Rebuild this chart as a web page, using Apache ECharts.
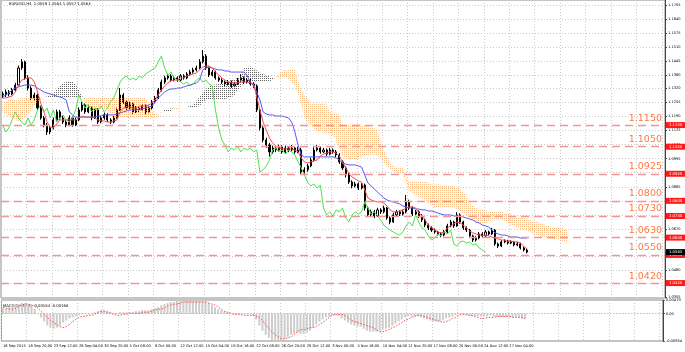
<!DOCTYPE html>
<html><head><meta charset="utf-8">
<script src="https://cdn.jsdelivr.net/npm/echarts@6/dist/echarts.min.js"></script>
<style>html,body{margin:0;padding:0;background:#fff}#c{width:685px;height:352px}</style>
</head><body><div id="c"></div>
<script>
// ---------- data ----------
const headerText = 'EURUSD,H4  1.0559 1.0564 1.0557 1.0563';
const macdText = 'MACD(12,26,9) -0.00184 -0.00168';
const xTickLabels = ['16 Sep 2015','18 Sep 20:00','23 Sep 12:00','28 Sep 04:00','30 Sep 20:00','5 Oct 08:00','8 Oct 00:00','12 Oct 12:00','15 Oct 04:00','19 Oct 16:00','22 Oct 08:00','26 Oct 20:00','29 Oct 12:00','3 Nov 00:00','5 Nov 16:00','10 Nov 04:00','12 Nov 20:00','17 Nov 08:00','20 Nov 00:00','24 Nov 12:00','27 Nov 04:00'];
const priceTicks = [1.1705,1.1640,1.1575,1.1510,1.1445,1.1380,1.1320,1.1255,1.1190,1.1125,1.1060,1.0995,1.0930,1.0865,1.0800,1.0735,1.0670,1.0545,1.0480,1.0420,1.0355];
const macdTicks = [0.00479, 0, -0.00954];
const levels = [1.1150,1.1050,1.0925,1.0800,1.0730,1.0630,1.0550,1.0420];
const lastPrice = 1.0563;
// each slot = two H4 bars; [open, close, low, high]
const candles = [
[1.1294,1.1289,1.1275,1.1305],[1.1289,1.1303,1.1280,1.1315],[1.1303,1.1294,1.1282,1.1312],[1.1294,1.1312,1.1288,1.1322],[1.1312,1.1335,1.1305,1.1345],
[1.1335,1.1414,1.1330,1.1425],[1.1414,1.1442,1.1405,1.1455],[1.1442,1.1368,1.1360,1.1448],[1.1368,1.1321,1.1310,1.1380],[1.1321,1.1275,1.1265,1.1330],
[1.1275,1.1289,1.1262,1.1300],[1.1289,1.1229,1.1220,1.1295],[1.1229,1.1183,1.1175,1.1238],[1.1183,1.1150,1.1140,1.1192],[1.1150,1.1118,1.1104,1.1160],
[1.1118,1.1137,1.1108,1.1148],[1.1137,1.1174,1.1130,1.1185],[1.1174,1.1211,1.1165,1.1222],[1.1211,1.1183,1.1175,1.1220],[1.1183,1.1164,1.1155,1.1192],
[1.1164,1.1150,1.1140,1.1172],[1.1150,1.1183,1.1145,1.1195],[1.1183,1.1150,1.1142,1.1190],[1.1150,1.1174,1.1145,1.1185],[1.1174,1.1220,1.1168,1.1232],
[1.1220,1.1243,1.1212,1.1258],[1.1243,1.1211,1.1202,1.1250],[1.1211,1.1229,1.1205,1.1240],[1.1229,1.1183,1.1172,1.1236],[1.1183,1.1220,1.1178,1.1230],
[1.1220,1.1164,1.1155,1.1228],[1.1164,1.1183,1.1158,1.1192],[1.1183,1.1197,1.1175,1.1208],[1.1197,1.1174,1.1165,1.1205],[1.1174,1.1164,1.1155,1.1182],
[1.1164,1.1183,1.1158,1.1192],[1.1183,1.1220,1.1178,1.1230],[1.1220,1.1289,1.1215,1.1321],[1.1289,1.1257,1.1248,1.1298],[1.1257,1.1229,1.1220,1.1265],
[1.1229,1.1248,1.1222,1.1258],[1.1248,1.1211,1.1202,1.1255],[1.1211,1.1229,1.1205,1.1238],[1.1229,1.1220,1.1210,1.1236],[1.1220,1.1238,1.1214,1.1248],
[1.1238,1.1211,1.1200,1.1245],[1.1211,1.1229,1.1205,1.1240],[1.1229,1.1257,1.1222,1.1266],[1.1257,1.1275,1.1250,1.1285],[1.1275,1.1312,1.1270,1.1322],
[1.1312,1.1349,1.1305,1.1360],[1.1349,1.1368,1.1340,1.1378],[1.1368,1.1377,1.1360,1.1388],[1.1377,1.1358,1.1350,1.1385],[1.1358,1.1368,1.1352,1.1378],
[1.1368,1.1358,1.1350,1.1375],[1.1358,1.1377,1.1352,1.1386],[1.1377,1.1368,1.1360,1.1385],[1.1368,1.1386,1.1362,1.1395],[1.1386,1.1395,1.1378,1.1405],
[1.1395,1.1405,1.1388,1.1415],[1.1405,1.1414,1.1398,1.1425],[1.1414,1.1442,1.1408,1.1455],[1.1442,1.1469,1.1435,1.1497],[1.1469,1.1414,1.1405,1.1478],
[1.1414,1.1381,1.1372,1.1420],[1.1381,1.1395,1.1375,1.1405],[1.1395,1.1368,1.1360,1.1402],[1.1368,1.1358,1.1350,1.1375],[1.1358,1.1349,1.1340,1.1366],
[1.1349,1.1340,1.1330,1.1356],[1.1340,1.1349,1.1333,1.1358],[1.1349,1.1331,1.1322,1.1356],[1.1331,1.1340,1.1325,1.1350],[1.1340,1.1358,1.1335,1.1368],
[1.1358,1.1368,1.1350,1.1385],[1.1368,1.1349,1.1340,1.1375],[1.1349,1.1358,1.1342,1.1368],[1.1358,1.1340,1.1332,1.1365],[1.1340,1.1331,1.1322,1.1348],
[1.1331,1.1220,1.1210,1.1338],[1.1220,1.1137,1.1125,1.1228],[1.1137,1.1081,1.1070,1.1145],[1.1081,1.1058,1.1045,1.1092],[1.1058,1.1026,1.1005,1.1068],
[1.1026,1.1044,1.1018,1.1055],[1.1044,1.1035,1.1025,1.1055],[1.1035,1.1049,1.1028,1.1060],[1.1049,1.1026,1.1018,1.1058],[1.1026,1.1044,1.1020,1.1055],
[1.1044,1.1035,1.1025,1.1052],[1.1035,1.1044,1.1028,1.1058],[1.1044,1.1026,1.1018,1.1052],[1.1026,1.1035,1.1020,1.1050],[1.1035,1.0933,1.0920,1.1045],
[1.0933,1.0943,1.0925,1.0955],[1.0943,1.0961,1.0935,1.0972],[1.0961,1.0989,1.0955,1.1000],[1.0989,1.1035,1.0982,1.1048],[1.1035,1.1044,1.1028,1.1058],
[1.1044,1.1026,1.1018,1.1052],[1.1026,1.1035,1.1020,1.1045],[1.1035,1.1016,1.1008,1.1042],[1.1016,1.1035,1.1010,1.1045],[1.1035,1.1026,1.1018,1.1042],
[1.1026,1.1012,1.1002,1.1035],[1.1012,1.0980,1.0970,1.1020],[1.0980,1.0952,1.0942,1.0988],[1.0952,1.0919,1.0908,1.0960],[1.0919,1.0887,1.0878,1.0928],
[1.0887,1.0869,1.0858,1.0895],[1.0869,1.0878,1.0862,1.0888],[1.0878,1.0859,1.0850,1.0885],[1.0859,1.0873,1.0852,1.0882],[1.0873,1.0767,1.0755,1.0880],
[1.0767,1.0735,1.0725,1.0775],[1.0735,1.0749,1.0728,1.0760],[1.0749,1.0730,1.0720,1.0758],[1.0730,1.0758,1.0725,1.0768],[1.0758,1.0749,1.0740,1.0766],
[1.0749,1.0767,1.0742,1.0778],[1.0767,1.0721,1.0712,1.0772],[1.0721,1.0702,1.0692,1.0728],[1.0702,1.0735,1.0698,1.0745],[1.0735,1.0749,1.0728,1.0758],
[1.0749,1.0739,1.0730,1.0756],[1.0739,1.0749,1.0732,1.0760],[1.0749,1.0795,1.0742,1.0827],[1.0795,1.0767,1.0758,1.0805],[1.0767,1.0739,1.0730,1.0775],
[1.0739,1.0749,1.0732,1.0758],[1.0749,1.0730,1.0720,1.0756],[1.0730,1.0712,1.0702,1.0738],[1.0712,1.0688,1.0678,1.0718],[1.0688,1.0675,1.0665,1.0695],
[1.0675,1.0665,1.0656,1.0682],[1.0665,1.0656,1.0648,1.0672],[1.0656,1.0647,1.0640,1.0662],[1.0647,1.0642,1.0632,1.0655],[1.0642,1.0656,1.0636,1.0665],
[1.0656,1.0684,1.0650,1.0694],[1.0684,1.0702,1.0678,1.0712],[1.0702,1.0684,1.0675,1.0708],[1.0684,1.0735,1.0680,1.0748],[1.0735,1.0702,1.0694,1.0742],
[1.0702,1.0675,1.0666,1.0708],[1.0675,1.0665,1.0656,1.0682],[1.0665,1.0638,1.0628,1.0670],[1.0638,1.0619,1.0610,1.0644],[1.0619,1.0628,1.0612,1.0638],
[1.0628,1.0647,1.0622,1.0656],[1.0647,1.0638,1.0630,1.0655],[1.0638,1.0656,1.0632,1.0665],[1.0656,1.0647,1.0640,1.0662],[1.0647,1.0665,1.0642,1.0675],
[1.0665,1.0601,1.0592,1.0670],[1.0601,1.0591,1.0582,1.0608],[1.0591,1.0610,1.0586,1.0618],[1.0610,1.0614,1.0604,1.0622],[1.0614,1.0605,1.0598,1.0620],
[1.0605,1.0610,1.0600,1.0618],[1.0610,1.0596,1.0590,1.0615],[1.0596,1.0601,1.0590,1.0610],[1.0601,1.0582,1.0575,1.0606],[1.0582,1.0573,1.0566,1.0588],
[1.0573,1.0563,1.0557,1.0580]
];
const tenkan = [1.1275,1.1275,1.1280,1.1284,1.1303,1.1335,1.1358,1.1363,1.1368,1.1368,
1.1349,1.1303,1.1252,1.1211,1.1164,1.1141,1.1137,1.1155,1.1174,1.1174,
1.1174,1.1174,1.1174,1.1174,1.1183,1.1192,1.1187,1.1187,1.1187,1.1183,
1.1174,1.1169,1.1169,1.1164,1.1164,1.1169,1.1174,1.1211,1.1229,1.1234,
1.1234,1.1229,1.1229,1.1238,1.1238,1.1238,1.1243,1.1252,1.1266,1.1289,
1.1312,1.1331,1.1345,1.1354,1.1358,1.1358,1.1368,1.1368,1.1377,1.1382,
1.1386,1.1391,1.1405,1.1418,1.1423,1.1423,1.1414,1.1395,1.1382,1.1368,
1.1358,1.1349,1.1345,1.1345,1.1345,1.1349,1.1349,1.1349,1.1345,1.1340,
1.1280,1.1220,1.1164,1.1127,1.1090,1.1067,1.1053,1.1044,1.1040,1.1040,
1.1040,1.1040,1.1035,1.1026,1.0998,1.0980,1.0975,1.0980,1.0984,1.0989,
1.1007,1.1016,1.1021,1.1026,1.1026,1.1021,1.1007,1.0980,1.0952,1.0929,
1.0910,1.0901,1.0892,1.0887,1.0850,1.0813,1.0804,1.0799,1.0795,1.0795,
1.0790,1.0776,1.0758,1.0749,1.0749,1.0753,1.0758,1.0767,1.0772,1.0772,
1.0767,1.0744,1.0730,1.0712,1.0688,1.0675,1.0665,1.0656,1.0652,1.0656,
1.0675,1.0684,1.0693,1.0702,1.0698,1.0688,1.0675,1.0661,1.0652,1.0647,
1.0642,1.0642,1.0642,1.0638,1.0633,1.0628,1.0624,1.0619,1.0619,1.0614,
1.0614,1.0610,1.0610,1.0605,1.0591,1.0578];
const kijun = [1.1280,1.1289,1.1298,1.1312,1.1321,1.1326,1.1331,1.1335,1.1335,1.1335,
1.1331,1.1321,1.1312,1.1303,1.1298,1.1294,1.1289,1.1284,1.1280,1.1275,
1.1266,1.1211,1.1197,1.1187,1.1187,1.1187,1.1187,1.1187,1.1187,1.1187,
1.1192,1.1192,1.1197,1.1197,1.1197,1.1197,1.1201,1.1206,1.1211,1.1215,
1.1220,1.1220,1.1220,1.1224,1.1224,1.1229,1.1234,1.1238,1.1257,1.1275,
1.1289,1.1303,1.1312,1.1317,1.1317,1.1321,1.1321,1.1326,1.1331,1.1335,
1.1340,1.1345,1.1358,1.1405,1.1414,1.1418,1.1414,1.1409,1.1405,1.1405,
1.1400,1.1400,1.1395,1.1395,1.1395,1.1395,1.1395,1.1377,1.1349,1.1331,
1.1303,1.1266,1.1211,1.1201,1.1197,1.1197,1.1192,1.1192,1.1192,1.1187,
1.1183,1.1164,1.1118,1.1058,1.1012,1.1003,1.1003,1.1003,1.1003,1.1003,
1.1003,1.1003,1.1003,1.1003,1.1003,1.0998,1.0989,1.0975,1.0970,1.0966,
1.0966,1.0966,1.0961,1.0956,1.0919,1.0882,1.0869,1.0855,1.0841,1.0827,
1.0813,1.0804,1.0799,1.0795,1.0790,1.0786,1.0776,1.0772,1.0767,1.0767,
1.0762,1.0762,1.0758,1.0758,1.0753,1.0753,1.0749,1.0744,1.0739,1.0735,
1.0735,1.0735,1.0730,1.0730,1.0730,1.0725,1.0721,1.0716,1.0712,1.0702,
1.0698,1.0688,1.0684,1.0679,1.0665,1.0652,1.0647,1.0642,1.0642,1.0638,
1.0633,1.0633,1.0633,1.0628,1.0628,1.0628];
// cloud spans (already shifted 26 bars forward), 179 slots
const spanA = [1.1211,1.1201,1.1192,1.1183,1.1174,1.1169,1.1174,1.1183,1.1201,1.1220,
1.1238,1.1257,1.1271,1.1278,1.1282,1.1289,1.1298,1.1312,1.1331,1.1345,
1.1349,1.1351,1.1351,1.1340,1.1312,1.1282,1.1257,1.1231,1.1217,1.1213,
1.1220,1.1227,1.1224,1.1220,1.1192,1.1185,1.1181,1.1185,1.1190,1.1187,
1.1187,1.1187,1.1185,1.1183,1.1181,1.1183,1.1181,1.1181,1.1183,1.1187,
1.1208,1.1220,1.1224,1.1227,1.1224,1.1224,1.1231,1.1231,1.1234,1.1238,
1.1245,1.1261,1.1282,1.1301,1.1317,1.1328,1.1335,1.1338,1.1340,1.1345,
1.1347,1.1354,1.1358,1.1363,1.1368,1.1382,1.1412,1.1418,1.1421,1.1414,
1.1402,1.1393,1.1386,1.1379,1.1375,1.1370,1.1370,1.1370,1.1372,1.1372,
1.1363,1.1347,1.1335,1.1291,1.1243,1.1187,1.1164,1.1144,1.1132,1.1123,
1.1118,1.1116,1.1113,1.1111,1.1102,1.1077,1.1042,1.1005,1.0991,1.0989,
1.0991,1.0993,1.0996,1.1005,1.1010,1.1012,1.1014,1.1014,1.1010,1.0998,
1.0977,1.0961,1.0947,1.0938,1.0933,1.0926,1.0922,1.0885,1.0848,1.0836,
1.0827,1.0818,1.0811,1.0802,1.0790,1.0779,1.0772,1.0769,1.0769,1.0767,
1.0769,1.0769,1.0769,1.0765,1.0753,1.0744,1.0735,1.0721,1.0714,1.0707,
1.0700,1.0695,1.0695,1.0705,1.0709,1.0712,1.0716,1.0714,1.0707,1.0698,
1.0688,1.0682,1.0675,1.0670,1.0665,1.0663,1.0658,1.0649,1.0640,1.0635,
1.0631,1.0631,1.0626,1.0624,1.0621,1.0621,1.0617,1.0610,1.0603];
const spanB = [1.1257,1.1261,1.1266,1.1266,1.1271,1.1271,1.1275,1.1275,1.1280,1.1280,
1.1280,1.1280,1.1280,1.1280,1.1280,1.1280,1.1280,1.1280,1.1280,1.1280,
1.1280,1.1280,1.1280,1.1280,1.1280,1.1280,1.1280,1.1280,1.1280,1.1280,
1.1280,1.1280,1.1280,1.1280,1.1280,1.1280,1.1280,1.1280,1.1280,1.1280,
1.1280,1.1280,1.1280,1.1280,1.1280,1.1275,1.1243,1.1217,1.1201,1.1199,
1.1213,1.1213,1.1213,1.1215,1.1227,1.1231,1.1231,1.1231,1.1231,1.1231,
1.1231,1.1234,1.1238,1.1257,1.1266,1.1271,1.1271,1.1271,1.1271,1.1271,
1.1271,1.1275,1.1280,1.1287,1.1314,1.1328,1.1349,1.1349,1.1349,1.1349,
1.1349,1.1349,1.1349,1.1349,1.1351,1.1361,1.1375,1.1384,1.1400,1.1409,
1.1409,1.1409,1.1409,1.1354,1.1312,1.1284,1.1271,1.1252,1.1252,1.1252,
1.1252,1.1252,1.1243,1.1213,1.1206,1.1206,1.1197,1.1153,1.1153,1.1153,
1.1153,1.1153,1.1153,1.1153,1.1148,1.1144,1.1141,1.1134,1.1130,1.1074,
1.1033,1.1003,1.0973,1.0959,1.0954,1.0954,1.0954,1.0906,1.0889,1.0887,
1.0887,1.0887,1.0887,1.0887,1.0885,1.0876,1.0876,1.0876,1.0873,1.0871,
1.0871,1.0871,1.0866,1.0864,1.0857,1.0841,1.0820,1.0797,1.0776,1.0767,
1.0762,1.0758,1.0755,1.0753,1.0753,1.0753,1.0749,1.0749,1.0744,1.0744,
1.0739,1.0730,1.0725,1.0721,1.0721,1.0716,1.0712,1.0707,1.0702,1.0698,
1.0693,1.0688,1.0684,1.0679,1.0679,1.0675,1.0675,1.0670,1.0670];
const macdMain = [0.00193,0.00193,0.00229,0.00265,0.00301,0.00337,0.00372,0.00372,0.00337,0.00265,
0.00158,0.00014,-0.00129,-0.00272,-0.00415,-0.00487,-0.00523,-0.00487,-0.00415,-0.00308,
-0.00236,-0.00165,-0.00129,-0.00093,-0.00057,-0.00021,-0.00021,-0.00021,0.00014,0.00050,
0.00086,0.00122,0.00122,0.00086,0.00050,0.00014,0.00014,0.00050,0.00050,0.00050,
0.00050,0.00050,0.00086,0.00086,0.00122,0.00122,0.00122,0.00158,0.00193,0.00229,
0.00301,0.00337,0.00372,0.00408,0.00408,0.00444,0.00444,0.00444,0.00444,0.00444,
0.00444,0.00444,0.00479,0.00479,0.00444,0.00372,0.00301,0.00229,0.00158,0.00122,
0.00086,0.00050,0.00014,-0.00021,-0.00021,-0.00021,-0.00021,-0.00021,-0.00021,-0.00057,
-0.00200,-0.00415,-0.00594,-0.00737,-0.00845,-0.00916,-0.00954,-0.00950,-0.00916,-0.00881,
-0.00809,-0.00737,-0.00702,-0.00666,-0.00702,-0.00702,-0.00666,-0.00594,-0.00487,-0.00379,
-0.00272,-0.00200,-0.00129,-0.00093,-0.00057,-0.00057,-0.00093,-0.00165,-0.00236,-0.00308,
-0.00379,-0.00415,-0.00451,-0.00451,-0.00523,-0.00594,-0.00630,-0.00630,-0.00630,-0.00594,
-0.00558,-0.00523,-0.00487,-0.00415,-0.00344,-0.00272,-0.00200,-0.00129,-0.00093,-0.00093,
-0.00093,-0.00093,-0.00129,-0.00165,-0.00200,-0.00236,-0.00272,-0.00272,-0.00272,-0.00236,
-0.00165,-0.00129,-0.00093,-0.00057,-0.00021,-0.00021,-0.00021,-0.00057,-0.00093,-0.00093,
-0.00093,-0.00093,-0.00093,-0.00093,-0.00057,-0.00093,-0.00129,-0.00129,-0.00129,-0.00129,
-0.00129,-0.00129,-0.00129,-0.00129,-0.00170,-0.00184];
const macdSignal = [0.00229,0.00193,0.00158,0.00158,0.00193,0.00265,0.00301,0.00337,0.00337,0.00301,
0.00265,0.00193,0.00086,-0.00021,-0.00129,-0.00236,-0.00308,-0.00379,-0.00451,-0.00487,
-0.00451,-0.00379,-0.00272,-0.00200,-0.00129,-0.00093,-0.00093,-0.00057,-0.00057,-0.00021,
0.00050,0.00086,0.00086,0.00050,0.00014,-0.00021,-0.00057,-0.00057,-0.00021,-0.00021,
0.00014,0.00014,0.00014,0.00014,0.00050,0.00050,0.00050,0.00086,0.00122,0.00158,
0.00158,0.00193,0.00265,0.00301,0.00337,0.00337,0.00372,0.00408,0.00408,0.00408,
0.00408,0.00408,0.00408,0.00408,0.00408,0.00372,0.00337,0.00301,0.00229,0.00158,
0.00086,0.00050,0.00014,-0.00021,-0.00021,-0.00021,-0.00057,-0.00057,-0.00057,-0.00057,
-0.00093,-0.00129,-0.00236,-0.00379,-0.00523,-0.00630,-0.00737,-0.00809,-0.00881,-0.00881,
-0.00845,-0.00809,-0.00737,-0.00630,-0.00558,-0.00558,-0.00523,-0.00487,-0.00487,-0.00451,
-0.00379,-0.00308,-0.00236,-0.00129,-0.00057,-0.00021,-0.00021,-0.00021,-0.00057,-0.00129,
-0.00236,-0.00272,-0.00308,-0.00344,-0.00379,-0.00415,-0.00451,-0.00487,-0.00558,-0.00630,
-0.00630,-0.00594,-0.00558,-0.00487,-0.00451,-0.00379,-0.00308,-0.00236,-0.00200,-0.00129,
-0.00093,-0.00057,-0.00057,-0.00093,-0.00129,-0.00165,-0.00200,-0.00236,-0.00272,-0.00308,
-0.00272,-0.00236,-0.00165,-0.00129,-0.00057,-0.00021,-0.00021,-0.00057,-0.00057,-0.00093,
-0.00129,-0.00165,-0.00165,-0.00129,-0.00129,-0.00129,-0.00093,-0.00093,-0.00093,-0.00093,
-0.00093,-0.00129,-0.00129,-0.00129,-0.00129,-0.00168];
const CHIKOU_SHIFT = 13;   // 26 H4 bars = 13 slots
const N_SLOTS = 209;

// ---------- build options ----------
const cats = Array.from({length: N_SLOTS}, (_, i) => String(i));
const closes = candles.map(c => c[1]);
const chikou = closes.slice(CHIKOU_SHIFT);
const kumoBase = spanA.map((a, i) => Math.min(a, spanB[i]));
const kumoDown = spanA.map((a, i) => spanB[i] > a ? spanB[i] - a : 0);
const kumoUp = spanA.map((a, i) => a >= spanB[i] ? a - spanB[i] : 0);

function hatch(color) {
  const c = document.createElement('canvas');
  c.width = 2; c.height = 2;
  const g = c.getContext('2d');
  g.fillStyle = color;
  g.fillRect(0, 0, 1, 1);
  return { image: c, repeat: 'repeat' };
}
const FONT = 'DejaVu Sans';
const grid = '#c9c9c9';
const HIDDEN = { color: 'rgba(255,255,255,0)', width: 1 };

const levelLines = levels.map(v => ({
  yAxis: v,
  lineStyle: { color: '#f39595', type: [8, 5], width: 1.4 },
  label: { show: true, position: 'insideEndTop', formatter: v.toFixed(4), color: '#ff7a45', fontSize: 9.5, fontFamily: FONT, distance: [3, 2] }
}));
const levelTags = levels.map(v => ({
  yAxis: v,
  lineStyle: HIDDEN,
  label: { show: true, position: 'end', formatter: v.toFixed(4), color: '#fff', backgroundColor: '#ff1a1a', fontSize: 3.8, fontFamily: FONT, padding: [1, 3, 1, 3], distance: 1 }
}));
const priceTag = {
  yAxis: lastPrice, lineStyle: HIDDEN,
  label: { show: true, position: 'end', formatter: lastPrice.toFixed(4), color: '#fff', backgroundColor: '#000', fontSize: 3.8, fontFamily: FONT, padding: [1, 3, 1, 3], distance: 1 }
};

const chart = echarts.init(document.getElementById('c'), null, { renderer: 'canvas' });
chart.setOption({
  animation: false,
  backgroundColor: '#ffffff',
  grid: [
    { left: 1, right: 20, top: 0, height: 298, show: true, borderColor: '#8a8a8a', borderWidth: 1 },
    { left: 1, right: 20, top: 300, height: 41, show: true, borderColor: '#8a8a8a', borderWidth: 1 }
  ],
  xAxis: [
    { type: 'category', gridIndex: 0, data: cats, boundaryGap: true,
      axisLine: { show: false }, axisTick: { show: false, interval: 7 }, axisLabel: { show: false },
      splitLine: { show: true, interval: 7, lineStyle: { color: grid, type: [1, 2], width: 1 } } },
    { type: 'category', gridIndex: 1, data: cats, boundaryGap: true,
      axisLine: { show: false }, axisTick: { show: false, interval: 7 },
      axisLabel: { show: true, interval: 7, align: 'left', margin: 3, color: '#000', fontSize: 3.6, fontFamily: FONT,
        formatter: (v, i) => (xTickLabels[i / 8] !== undefined ? xTickLabels[i / 8] : '') },
      splitLine: { show: true, interval: 7, lineStyle: { color: grid, type: [1, 2], width: 1 } } }
  ],
  yAxis: [
    { type: 'value', gridIndex: 0, position: 'right', min: 1.0351, max: 1.1728,
      axisLine: { show: true, lineStyle: { color: '#444' } },
      axisTick: { show: true, length: 2, customValues: priceTicks, lineStyle: { color: '#444' } },
      axisLabel: { show: true, customValues: priceTicks, formatter: v => v.toFixed(4), margin: 3, color: '#000', fontSize: 3.6, fontFamily: FONT },
      splitLine: { show: true, lineStyle: { color: grid, type: [1, 2], width: 1 } } },
    { type: 'value', gridIndex: 1, position: 'right', min: -0.00954, max: 0.00479,
      axisLine: { show: true, lineStyle: { color: '#444' } },
      axisTick: { show: true, length: 2, customValues: macdTicks, lineStyle: { color: '#444' } },
      axisLabel: { show: true, customValues: macdTicks, formatter: v => (v === 0 ? '0.00' : v.toFixed(5)), margin: 3, color: '#000', fontSize: 3.6, fontFamily: FONT },
      splitLine: { show: false } }
  ],
  series: [
    { type: 'line', name: 'kumoBase', xAxisIndex: 0, yAxisIndex: 0, data: kumoBase, stack: 'kumo', showSymbol: false, silent: true, lineStyle: { opacity: 0 } },
    { type: 'line', name: 'kumoDown', xAxisIndex: 0, yAxisIndex: 0, data: kumoDown, stack: 'kumo', showSymbol: false, silent: true, lineStyle: { opacity: 0 },
      areaStyle: { color: hatch('#f4a460'), opacity: 0.75 } },
    { type: 'line', name: 'kumoUp', xAxisIndex: 0, yAxisIndex: 0, data: kumoUp, stack: 'kumo', showSymbol: false, silent: true, lineStyle: { opacity: 0 },
      areaStyle: { color: hatch('#3c3c3c'), opacity: 0.8 } },
    { type: 'candlestick', name: 'EURUSD', xAxisIndex: 0, yAxisIndex: 0, data: candles, barMaxWidth: 2.2,
      itemStyle: { color: '#ffffff', color0: '#000000', borderColor: '#000000', borderColor0: '#000000', borderWidth: 1 } },
    { type: 'line', name: 'chikou', xAxisIndex: 0, yAxisIndex: 0, data: chikou, showSymbol: false, lineStyle: { color: '#4fe04f', width: 1 } },
    { type: 'line', name: 'kijun', xAxisIndex: 0, yAxisIndex: 0, data: kijun, showSymbol: false, lineStyle: { color: '#5a5af5', width: 1 } },
    { type: 'line', name: 'tenkan', xAxisIndex: 0, yAxisIndex: 0, data: tenkan, showSymbol: false, clip: false, lineStyle: { color: '#f25050', width: 1 },
      markLine: { symbol: 'none', silent: true, animation: false, precision: 4, data: [...levelLines, ...levelTags, priceTag] } },
    { type: 'bar', name: 'MACD', xAxisIndex: 1, yAxisIndex: 1, data: macdMain, barWidth: 2, itemStyle: { color: '#cdcdcd' },
      markLine: { symbol: 'none', silent: true, precision: 5, label: { show: false }, data: [{ yAxis: 0 }], lineStyle: { color: '#9a9a9a', type: [1, 2], width: 1 } } },
    { type: 'line', name: 'Signal', xAxisIndex: 1, yAxisIndex: 1, data: macdSignal, showSymbol: false, lineStyle: { color: '#ff4a4a', width: 1, type: [1.5, 1.5] } }
  ],
  graphic: [
    { type: 'text', left: 9, top: 2, style: { text: headerText, fill: '#000', font: '3.8px "DejaVu Sans"' } },
    { type: 'text', left: 3, top: 304, style: { text: macdText, fill: '#000', font: '3.8px "DejaVu Sans"' } }
  ]
});
</script>
</body></html>
